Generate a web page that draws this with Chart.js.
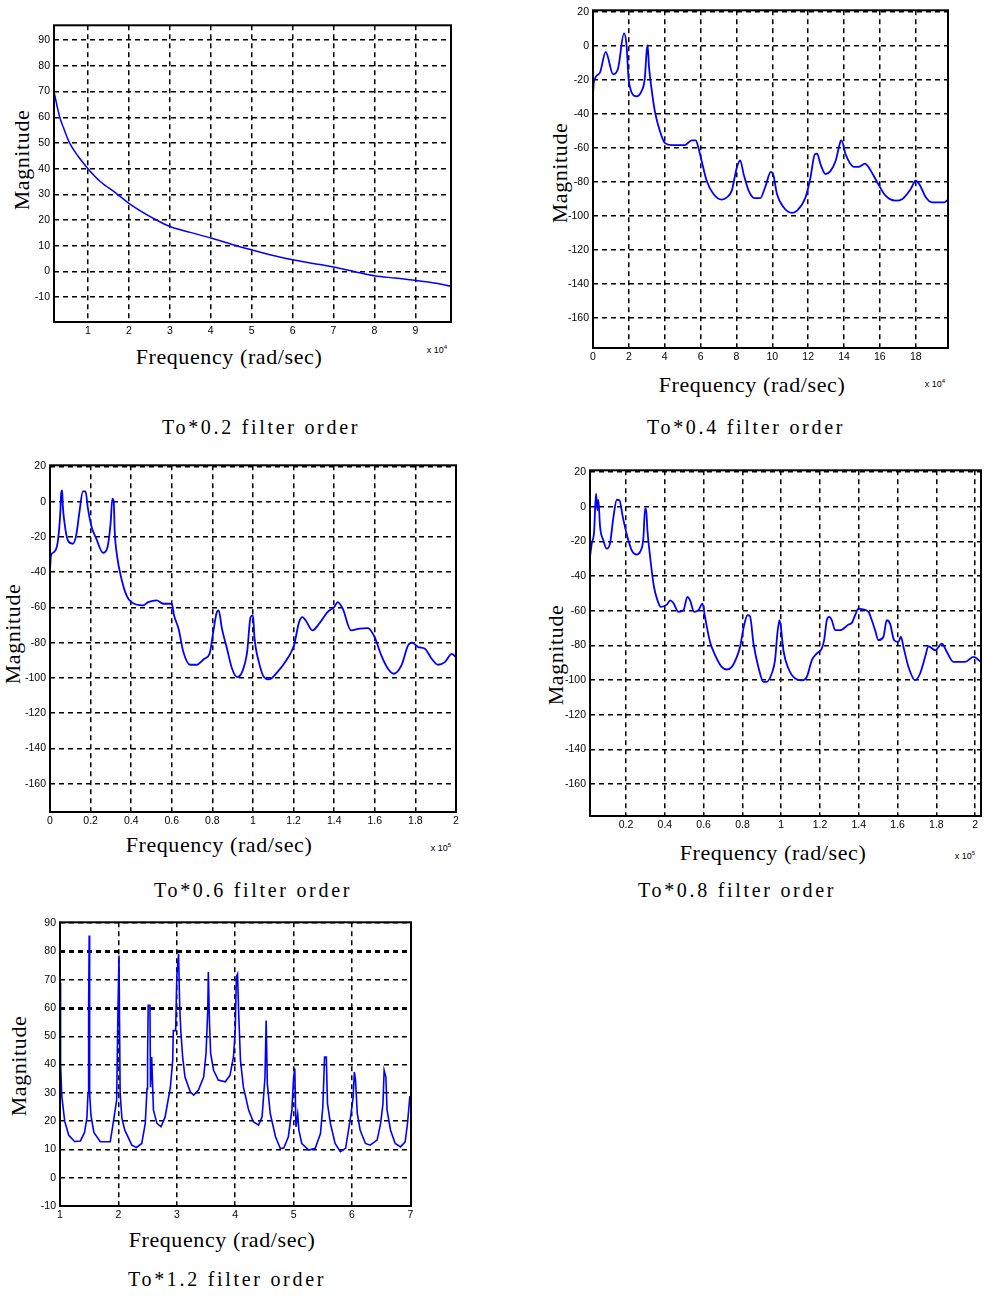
<!DOCTYPE html>
<html><head><meta charset="utf-8">
<script src="https://cdn.jsdelivr.net/npm/chart.js@4.4.1/dist/chart.umd.min.js"></script>
<style>
body{margin:0;background:#fff;width:984px;height:1305px;position:relative;overflow:hidden;font-family:"Liberation Serif",serif;}
.t{position:absolute;white-space:nowrap;color:#000;line-height:1;}
.yl{transform:translate(-50%,-50%) rotate(-90deg);font-size:22px;letter-spacing:0.6px;}
.xl{transform:translate(-50%,-50%);font-size:22px;letter-spacing:0.6px;}
.cap{transform:translate(-50%,-50%);font-size:20px;letter-spacing:2.7px;}
.ex{font-family:"Liberation Sans",sans-serif;font-size:9px;transform:translate(-50%,-50%);}
.ex sup{font-size:6px;}
canvas{position:absolute;}
</style></head><body>

<div class="t yl" style="left:22px;top:160px">Magnitude</div>
<div class="t xl" style="left:229px;top:357px">Frequency (rad/sec)</div>
<div class="t ex" style="left:437px;top:349px">x 10<sup>4</sup></div>
<div class="t cap" style="left:261px;top:427px">To*0.2 filter order</div>

<div class="t yl" style="left:560px;top:173px">Magnitude</div>
<div class="t xl" style="left:752px;top:385px">Frequency (rad/sec)</div>
<div class="t ex" style="left:935px;top:383px">x 10<sup>4</sup></div>
<div class="t cap" style="left:746px;top:427px">To*0.4 filter order</div>

<div class="t yl" style="left:13px;top:634px">Magnitude</div>
<div class="t xl" style="left:219px;top:845px">Frequency (rad/sec)</div>
<div class="t ex" style="left:441px;top:847px">x 10<sup>5</sup></div>
<div class="t cap" style="left:253px;top:890px">To*0.6 filter order</div>

<div class="t yl" style="left:556px;top:655px">Magnitude</div>
<div class="t xl" style="left:773px;top:853px">Frequency (rad/sec)</div>
<div class="t ex" style="left:965px;top:855px">x 10<sup>5</sup></div>
<div class="t cap" style="left:737px;top:890px">To*0.8 filter order</div>

<div class="t yl" style="left:19px;top:1066px">Magnitude</div>
<div class="t xl" style="left:222px;top:1240px">Frequency (rad/sec)</div>
<div class="t cap" style="left:227px;top:1279px">To*1.2 filter order</div>

<script>
// ---- Panel 1: To*0.2 (x in 10^4 rad/sec)
const freq1 = [0.17,0.25,0.31,0.4,0.55,0.75,1,1.3,1.69,2,2.67,3,3.5,4,4.5,5,5.5,6,6.5,7,7.5,8,8.5,9,9.5,9.87];
const mag1  = [70,64,60,56,50,45,40,35,30.4,26.5,20,17.5,15.2,13,10.6,8.4,6.3,4.5,3.1,1.7,0,-1.7,-2.6,-3.5,-4.6,-5.8];
const xTicks1 = [1,2,3,4,5,6,7,8,9];
const yTicks1 = [90,80,70,60,50,40,30,20,10,0,-10];

// ---- Panel 2: To*0.4 (x in 10^4 rad/sec)
const freq2 = [0,0.05,0.37,0.71,1.12,1.4,1.73,1.87,2.0,2.43,2.7,2.89,2.99,3.04,3.13,3.26,3.45,3.73,4.0,4.38,5.13,5.5,5.73,5.88,6.06,6.34,6.72,7.18,7.46,7.74,8.02,8.21,8.4,8.68,9.01,9.33,9.6,9.92,10.07,10.26,10.63,11.1,11.38,11.85,12.13,12.37,12.5,12.69,12.97,13.25,13.53,13.81,13.86,14.09,14.55,14.83,15.17,15.39,15.86,16.32,16.88,17.26,17.72,18.0,18.2,18.57,18.94,19.59,19.78];
const mag2  = [-28.6,-20.9,-16,-3.4,-16.6,-13,7.4,0.5,-20.9,-29.6,-26.7,-18.9,-3.4,0.5,-13,-24.8,-38.4,-50,-56.9,-58.2,-58.2,-55.5,-55.5,-59.8,-67.6,-79.2,-87,-90.3,-89,-85,-71.5,-67.2,-75.3,-85,-89.4,-89.4,-83,-74,-76.3,-87,-94.8,-98.1,-96.8,-89,-77.3,-63.7,-63.3,-69.5,-75.3,-73.4,-67.6,-55.9,-55.5,-63.7,-71,-71,-69.1,-71.5,-80.2,-88,-90.9,-89.9,-84.1,-79.2,-81.2,-89,-91.9,-91.9,-90.5];
const xTicks2 = [0,2,4,6,8,10,12,14,16,18];
const yTicks2 = [20,0,-20,-40,-60,-80,-100,-120,-140,-160];

// ---- Panel 3: To*0.6 (x in 10^5 rad/sec)
const freq3 = [0,0.005,0.02,0.038,0.05,0.055,0.06,0.063,0.071,0.088,0.112,0.129,0.145,0.162,0.175,0.187,0.203,0.228,0.261,0.281,0.299,0.307,0.314,0.319,0.33,0.352,0.377,0.401,0.459,0.484,0.525,0.558,0.6,0.611,0.633,0.657,0.69,0.723,0.76,0.786,0.803,0.822,0.831,0.847,0.872,0.897,0.922,0.946,0.971,0.988,1.0,1.007,1.029,1.054,1.078,1.12,1.169,1.202,1.227,1.244,1.26,1.293,1.326,1.367,1.4,1.417,1.442,1.483,1.525,1.566,1.599,1.632,1.665,1.694,1.731,1.764,1.784,1.814,1.847,1.88,1.912,1.945,1.979,2.0];
const mag3  = [-39,-30.5,-28.6,-22.9,-7.8,4.5,6.4,-2.1,-11.6,-22,-23.9,-19.1,-5.9,5.8,5.8,-4,-13.5,-21,-29,-26.7,-11.6,1.7,-0.2,-17.2,-30.5,-43.7,-53.2,-57,-58.8,-57,-56,-57.9,-57.9,-64.5,-72,-85.3,-92.5,-92.5,-89.1,-86.3,-74.9,-62.6,-61.7,-72,-83.4,-94.8,-99.5,-96.7,-85.3,-65.5,-64.5,-76.8,-91,-99.5,-100.8,-96.7,-89.1,-81.5,-68.3,-65.5,-67.4,-73,-69.2,-62.6,-59.8,-57,-60.7,-73,-72,-71.7,-76.8,-87.2,-94.8,-97.6,-92.9,-81.5,-80,-82.5,-83.4,-89.1,-92.5,-91,-86.3,-88.2];
const xTicks3 = [0,0.2,0.4,0.6,0.8,1,1.2,1.4,1.6,1.8,2];
const yTicks3 = [20,0,-20,-40,-60,-80,-100,-120,-140,-160];

// ---- Panel 4: To*0.8 (x in 10^5 rad/sec)
const freq4 = [0.014,0.023,0.035,0.045,0.052,0.057,0.066,0.083,0.1,0.117,0.135,0.152,0.166,0.183,0.207,0.229,0.255,0.272,0.289,0.298,0.303,0.31,0.324,0.344,0.362,0.379,0.41,0.427,0.444,0.47,0.496,0.516,0.53,0.551,0.573,0.594,0.607,0.633,0.659,0.693,0.719,0.745,0.771,0.788,0.805,0.826,0.839,0.857,0.882,0.908,0.925,0.951,0.968,0.98,0.991,0.998,1.011,1.037,1.072,1.106,1.132,1.158,1.183,1.209,1.221,1.235,1.247,1.261,1.278,1.304,1.347,1.364,1.381,1.398,1.415,1.45,1.467,1.484,1.501,1.527,1.544,1.561,1.582,1.604,1.617,1.63,1.656,1.69,1.716,1.742,1.759,1.794,1.828,1.854,1.888,1.948,1.991,2.029];
const mag4  = [-29,-21.3,-14.6,7.5,-2.1,4,-11.7,-19.4,-24.2,-21.3,-5.9,4,3.7,-5.9,-17.5,-25.1,-27.6,-26.1,-18.4,-1.1,-1.1,-13.6,-29,-46.3,-54,-57.8,-56.5,-54,-55.5,-60.7,-59.7,-52,-54,-60.7,-59.7,-55.9,-63.6,-78,-85.6,-92.4,-93.9,-92.4,-86.6,-80.8,-70.3,-62.6,-63.2,-78.9,-92.4,-101,-101,-96.2,-88.5,-73.2,-65.5,-69.3,-82.8,-93.3,-99.1,-100.1,-98.1,-88.5,-84.7,-81.8,-77,-65.5,-63.6,-65.5,-71.2,-71.2,-68,-67,-62.6,-58.8,-59.1,-60.7,-65.5,-71.2,-77,-75,-65.5,-67.4,-77,-78,-75,-80.8,-92.4,-100.1,-96.2,-86.6,-80.5,-82.8,-79,-83.8,-89.5,-89.5,-86.6,-89.5];
const xTicks4 = [0.2,0.4,0.6,0.8,1,1.2,1.4,1.6,1.8,2];
const yTicks4 = [20,0,-20,-40,-60,-80,-100,-120,-140,-160];

// ---- Panel 5: To*1.2
const freq5 = [1.0,1.01,1.03,1.08,1.15,1.25,1.35,1.42,1.46,1.48,1.49,1.5,1.505,1.51,1.53,1.58,1.69,1.86,1.91,1.97,1.99,2.01,2.03,2.06,2.11,2.23,2.31,2.4,2.46,2.49,2.5,2.51,2.54,2.55,2.57,2.6,2.66,2.73,2.8,2.89,2.93,2.94,2.98,3.0,3.03,3.05,3.07,3.1,3.14,3.23,3.29,3.37,3.46,3.5,3.53,3.54,3.56,3.58,3.63,3.71,3.83,3.91,3.97,4.0,4.02,4.04,4.06,4.09,4.14,4.23,4.31,4.4,4.46,4.51,4.53,4.55,4.6,4.69,4.77,4.83,4.91,4.97,5.0,5.02,5.04,5.07,5.09,5.14,5.26,5.37,5.46,5.5,5.53,5.56,5.58,5.63,5.71,5.8,5.89,5.94,5.98,6.02,6.04,6.06,6.09,6.14,6.23,6.31,6.43,6.49,6.53,6.55,6.58,6.6,6.66,6.74,6.83,6.91,6.95,6.99,7.01];
const mag5  = [69,40,29,20,15,12.8,13,16,21,30,59,85.6,58,30,22,16,12.7,12.7,19.2,27.4,56,78.6,29.8,21,16.8,11.5,10.7,12.1,19.2,31.5,42.7,61,61,32,42.7,23.9,19.2,18,21.5,32,41.5,52,52,71,79.2,60.4,51.5,42.7,35.6,30.4,29.2,31,35.6,43.9,59.2,72.7,54.5,43.9,38,34.5,33.9,36.2,42.7,52,71,72,58,41.5,32.1,23.9,19.8,18.6,21.5,35.6,55.6,33.3,22.7,14.5,10.4,10.4,14.5,23.9,35.6,38.6,18,22.5,16.8,12.1,9.8,10.4,15.6,25,42.7,42.7,26.2,19.2,12.1,9.2,10.4,16.8,22.1,28.6,37.4,34.5,22.7,16.8,12.1,11.5,13.3,19.2,26.2,38,35.6,23.9,16.8,12.1,10.9,12.7,19.2,28.6,28.6];
const xTicks5 = [1,2,3,4,5,6,7];
const yTicks5 = [90,80,70,60,50,40,30,20,10,0,-10];

const boxPlugin = {
  id: 'box',
  afterDraw(chart) {
    const {ctx, chartArea: a} = chart;
    ctx.save();
    ctx.strokeStyle = '#000';
    ctx.lineWidth = 2;
    ctx.strokeRect(a.left, a.top, a.right - a.left, a.bottom - a.top);
    ctx.restore();
  }
};

const panels = [
  {x: freq1, y: mag1, xt: xTicks1, yt: yTicks1, L: 54, R: 451, T: 25, B: 322, xmin: 0.17, xmax: 9.87, ymin: -19.7, ymax: 95.8, smooth: true, lw: 1.5},
  {x: freq2, y: mag2, xt: xTicks2, yt: yTicks2, L: 593, R: 948, T: 8, B: 348, xmin: 0, xmax: 19.8, ymin: -177.5, ymax: 21, smooth: true, pt: 8, lw: 1.8},
  {x: freq3, y: mag3, xt: xTicks3, yt: yTicks3, L: 50, R: 456, T: 465, B: 812, xmin: 0, xmax: 2, ymin: -176, ymax: 20.6, smooth: true, lw: 1.8},
  {x: freq4, y: mag4, xt: xTicks4, yt: yTicks4, L: 590, R: 981, T: 470, B: 816, xmin: 0.014, xmax: 2.03, ymin: -178.4, ymax: 21, smooth: true, pr: 3, lw: 1.8},
  {x: freq5, y: mag5, xt: xTicks5, yt: yTicks5, L: 60, R: 411, T: 922, B: 1206, xmin: 1, xmax: 7.01, ymin: -10, ymax: 90.3, smooth: false, bold: [80, 60], lw: 1.6}
];

function make(p) {
  const yW = 44, xH = 22;
  const pt = p.pt !== undefined ? p.pt : 10;
  const pr = p.pr !== undefined ? p.pr : 10;
  const W = yW + (p.R - p.L) + pr;
  const H = pt + (p.B - p.T) + xH;
  const c = document.createElement('canvas');
  c.width = W; c.height = H;
  c.style.left = (p.L - yW) + 'px';
  c.style.top = (p.T - pt) + 'px';
  c.style.width = W + 'px';
  c.style.height = H + 'px';
  document.body.appendChild(c);
  const tickFont = {family: '"Liberation Sans", Arial, sans-serif', size: 10.5};
  new Chart(c, {
    type: 'line',
    data: {datasets: [{
      data: p.x.map((v, i) => ({x: v, y: p.y[i]})),
      borderColor: '#0000ff', borderWidth: p.lw, pointRadius: 0, fill: false,
      tension: 0, cubicInterpolationMode: p.smooth ? 'monotone' : 'default'
    }]},
    options: {
      responsive: false, animation: false, devicePixelRatio: 1,
      layout: {padding: {top: pt, right: pr, left: 0, bottom: 0}},
      plugins: {legend: {display: false}, tooltip: {enabled: false}},
      scales: {
        x: {
          type: 'linear', min: p.xmin, max: p.xmax,
          afterFit: s => { s.height = xH; },
          afterBuildTicks: s => { s.ticks = p.xt.map(v => ({value: v})); },
          ticks: {autoSkip: false, maxRotation: 0, padding: 3, color: '#000', font: tickFont, callback: v => String(v)},
          grid: {color: '#000', lineWidth: 1.5, drawTicks: false},
          border: {display: false, dash: [5, 4]}
        },
        y: {
          type: 'linear', min: p.ymin, max: p.ymax,
          afterFit: s => { s.width = yW; },
          afterBuildTicks: s => { s.ticks = p.yt.map(v => ({value: v})); },
          ticks: {autoSkip: false, padding: 4, color: '#000', font: tickFont, callback: v => String(v)},
          grid: {color: '#000', drawTicks: false,
            lineWidth: ctx => (p.bold && ctx.tick && p.bold.includes(ctx.tick.value)) ? 3 : 1.5},
          border: {display: false, dash: [5, 4]}
        }
      }
    },
    plugins: [boxPlugin]
  });
}
panels.forEach(make);
</script>
</body></html>
